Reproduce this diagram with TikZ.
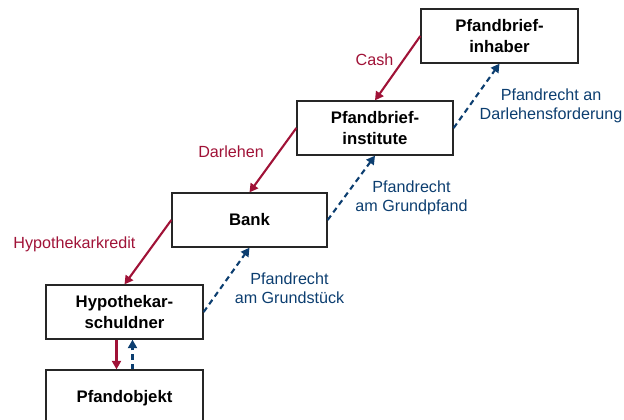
\documentclass[tikz,border=0pt]{standalone}
\usepackage{fontspec}
\setmainfont{Liberation Sans}
\usetikzlibrary{arrows.meta}
\definecolor{myred}{RGB}{160,18,55}
\definecolor{myblue}{RGB}{12,62,112}
\begin{document}
\begin{tikzpicture}[x=1bp,y=-1bp,
  box/.style={draw=black!85, line width=1.3bp, fill=white, align=center, inner sep=0pt,
    font=\fontsize{16.8}{20.5}\selectfont\bfseries},
  redarrow/.style={draw=myred, line width=2.1bp, -{Triangle[length=8.5bp,width=9bp]}},
  bluearrow/.style={draw=myblue, line width=2.1bp, dash pattern=on 5.5bp off 4bp, -{Triangle[length=8.5bp,width=9bp]}},
  redlabel/.style={text=myred, font=\fontsize{16.2}{19}\selectfont, align=center, inner sep=0pt},
  bluelabel/.style={text=myblue, font=\fontsize{16.2}{19}\selectfont, align=center, inner sep=0pt}]
\useasboundingbox (0,0) rectangle (624,419);
\node[box, minimum width=157bp, minimum height=54bp] (inh) at (499.5,36) {Pfandbrief-\\inhaber};
\node[box, minimum width=156bp, minimum height=54bp] (inst) at (375,128) {Pfandbrief-\\institute};
\node[box, minimum width=155bp, minimum height=54bp] (bank) at (249.5,220) {Bank};
\node[box, minimum width=157bp, minimum height=54bp] (hypo) at (124.5,312) {Hypothekar-\\schuldner};
\node[box, minimum width=157bp, minimum height=56bp] (pfo) at (124.5,398) {Pfandobjekt};

\draw[redarrow] (inh.west) -- (inst.north);
\draw[redarrow] (inst.west) -- (bank.north);
\draw[redarrow] (bank.west) -- (hypo.north);
\draw[redarrow] ([xshift=-8bp]hypo.south) -- ([xshift=-8bp]pfo.north);

\draw[bluearrow] (hypo.east) -- (bank.south);
\draw[bluearrow] (bank.east) -- (inst.south);
\draw[bluearrow] (inst.east) -- (inh.south);
\draw[bluearrow] ([xshift=8bp]pfo.north) -- ([xshift=8bp]hypo.south);

\node[redlabel] (lcash) at (374.5,60) {Cash};
\node[redlabel] (ldarl) at (231,152) {Darlehen};
\node[redlabel] (lhypo) at (74.5,244) {Hypothekarkredit};
\node[bluelabel] (lpd) at (551,106) {Pfandrecht an\\Darlehensforderung};
\node[bluelabel] (lpg) at (411.5,198) {Pfandrecht\\am Grundpfand};
\node[bluelabel] (lps) at (289.5,288) {Pfandrecht\\am Grundstück};
\end{tikzpicture}
\end{document}
